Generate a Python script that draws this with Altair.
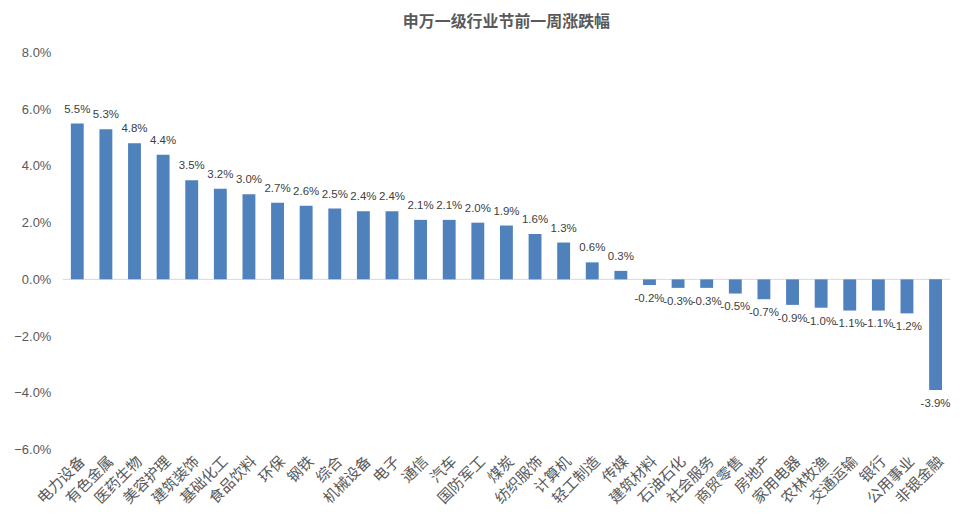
import altair as alt
import pandas as pd

industries = ["电力设备", "有色金属", "医药生物", "美容护理", "建筑装饰", "基础化工", "食品饮料", "环保",
              "钢铁", "综合", "机械设备", "电子", "通信", "汽车", "国防军工", "煤炭", "纺织服饰",
              "计算机", "轻工制造", "传媒", "建筑材料", "石油石化", "社会服务", "商贸零售", "房地产",
              "家用电器", "农林牧渔", "交通运输", "银行", "公用事业", "非银金融"]
changes = [5.5, 5.3, 4.8, 4.4, 3.5, 3.2, 3.0, 2.7, 2.6, 2.5, 2.4, 2.4, 2.1, 2.1, 2.0, 1.9, 1.6,
           1.3, 0.6, 0.3, -0.2, -0.3, -0.3, -0.5, -0.7, -0.9, -1.0, -1.1, -1.1, -1.2, -3.9]
y_ticks = [-6, -4, -2, 0, 2, 4, 6, 8]

df = pd.DataFrame({"industry": industries, "v": [c / 100 for c in changes]})
df["label"] = [f"{c:.1f}%" for c in changes]

FONT = "Noto Sans CJK SC"
GRAY = "#595959"

x = alt.X("industry:N", sort=industries, title=None,
          scale=alt.Scale(paddingInner=0.55, paddingOuter=0.28),
          axis=alt.Axis(labelAngle=-45, labelFontSize=15, labelColor=GRAY, labelFont=FONT,
                        domain=False, ticks=False, labelPadding=4, labelLimit=200))
y = alt.Y("v:Q", title=None,
          scale=alt.Scale(domain=[-0.06, 0.08], nice=False),
          axis=alt.Axis(values=[t / 100 for t in y_ticks], format=".1%", grid=False, domain=False,
                        ticks=False, labelFontSize=13, labelColor=GRAY, labelFont="Liberation Sans",
                        labelPadding=12))

base = alt.Chart(df)
bars = base.mark_bar(color="#4f81bd").encode(x=x, y=y)
pos = base.transform_filter("datum.v >= 0").mark_text(
    baseline="bottom", dy=-9, fontSize=11.5, color="#404040", font="Liberation Sans"
).encode(x=x, y=y, text="label:N")
neg = base.transform_filter("datum.v < 0").mark_text(
    baseline="top", dy=8, fontSize=11.5, color="#404040", font="Liberation Sans"
).encode(x=x, y=y, text="label:N")
zero = alt.Chart(pd.DataFrame({"v": [0.0]})).mark_rule(color="#d9d9d9", strokeWidth=1).encode(y=y)

chart = alt.layer(zero, bars, pos, neg).properties(
    width=890, height=398, background="white",
    title=alt.TitleParams("申万一级行业节前一周涨跌幅", font=FONT, fontSize=16, fontWeight="bold",
                          color=GRAY, offset=17),
).configure_view(stroke=None).configure_axis(domain=False, ticks=False, grid=False)

chart.save("out.html", embed_options={"renderer": "svg", "actions": False})
